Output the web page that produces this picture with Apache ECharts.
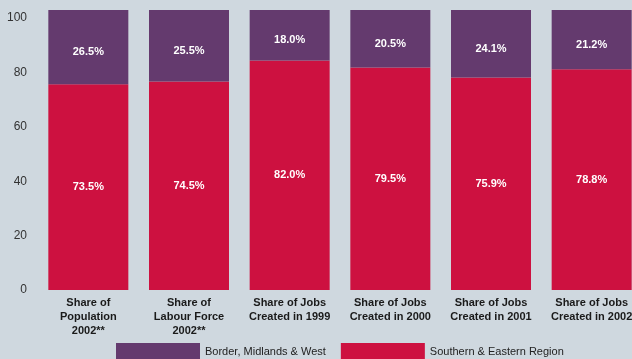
<!DOCTYPE html>
<html><head><meta charset="utf-8">
<style>html,body{margin:0;padding:0;background:#cfd8df;}#c{width:632px;height:359px;}</style>
<script src="https://cdn.jsdelivr.net/npm/echarts@6/dist/echarts.min.js"></script>
</head><body><div id="c"></div>
<script>
const categories = ['Share of\nPopulation\n2002**', 'Share of\nLabour Force\n2002**', 'Share of Jobs\nCreated in 1999', 'Share of Jobs\nCreated in 2000', 'Share of Jobs\nCreated in 2001', 'Share of Jobs\nCreated in 2002'];
const southernEastern = [73.5, 74.5, 82.0, 79.5, 75.9, 78.8];
const borderMidlandsWest = [26.5, 25.5, 18.0, 20.5, 24.1, 21.2];
const seriesNames = ['Border, Midlands & West', 'Southern & Eastern Region'];
const yTicks = [0, 20, 40, 60, 80, 100];

const font = '"Liberation Sans", Arial, sans-serif';
const chart = echarts.init(document.getElementById('c'));
chart.setOption({
  backgroundColor: '#cfd8df',
  animation: false,
  grid: { left: 38, top: 10, width: 604, bottom: 69, containLabel: false, outerBoundsMode: 'none' },
  legend: {
    data: seriesNames,
    top: 343, left: 116, padding: 0,
    itemWidth: 84, itemHeight: 18, itemGap: 15,
    icon: 'rect',
    textStyle: { fontFamily: font, fontSize: 11, color: '#222', padding: [0, 0, 0, 0] }
  },
  xAxis: {
    type: 'category', data: categories,
    axisLine: { show: false }, axisTick: { show: false },
    axisLabel: { interval: 0, fontFamily: font, fontWeight: 'bold', fontSize: 11, color: '#1a1a1a', lineHeight: 14, margin: 6 }
  },
  yAxis: [{
    type: 'value', min: 0, max: 103, interval: 20,
    splitLine: { show: false }, axisLine: { show: false }, axisTick: { show: false },
    axisLabel: { showMaxLabel: false, fontFamily: font, fontSize: 12, color: '#333', margin: 11,
      formatter: v => yTicks.includes(v) ? String(v) : '' }
  }, {
    type: 'value', min: 0, max: 100, show: false
  }],
  series: [{
    name: seriesNames[1], type: 'bar', stack: 's', yAxisIndex: 1, barWidth: 80,
    data: southernEastern,
    itemStyle: { color: '#cd1140' },
    label: { show: true, position: 'inside', formatter: p => p.value.toFixed(1) + '%', color: '#fff', fontFamily: font, fontWeight: 'bold', fontSize: 11 }
  }, {
    name: seriesNames[0], type: 'bar', stack: 's', yAxisIndex: 1, barWidth: 80,
    data: borderMidlandsWest,
    itemStyle: { color: '#643a6e' },
    label: { show: true, position: 'inside', offset: [0, 5], formatter: p => p.value.toFixed(1) + '%', color: '#fff', fontFamily: font, fontWeight: 'bold', fontSize: 11 }
  }]
});
</script></body></html>
